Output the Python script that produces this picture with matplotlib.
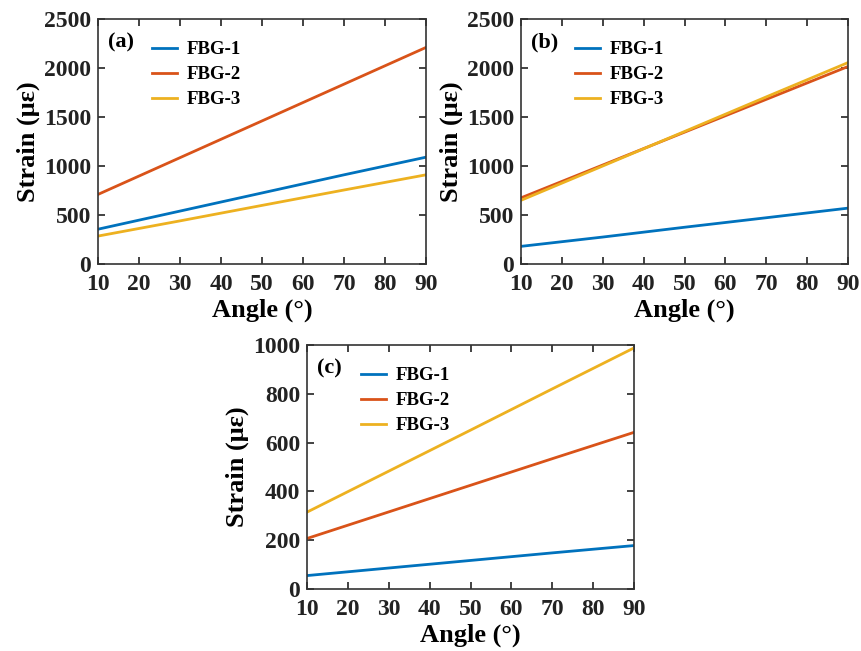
import matplotlib
matplotlib.use("Agg")
import matplotlib.pyplot as plt

plt.rcParams['font.family'] = ['Liberation Serif', 'DejaVu Serif']
plt.rcParams['font.weight'] = 'bold'
plt.rcParams['axes.labelweight'] = 'bold'

angles = [10, 30, 50, 70, 90]
labels = ['FBG-1', 'FBG-2', 'FBG-3']
colors = ['#0072BD', '#D95319', '#EDB120']

a_fbg1 = [355, 540, 725, 910, 1090]
a_fbg2 = [710, 1085, 1460, 1835, 2210]
a_fbg3 = [285, 440, 598, 755, 910]

b_fbg1 = [180, 275, 375, 472, 570]
b_fbg2 = [675, 1010, 1345, 1680, 2015]
b_fbg3 = [650, 1000, 1352, 1705, 2055]

c_fbg1 = [55, 86, 117, 148, 178]
c_fbg2 = [207, 316, 425, 534, 642]
c_fbg3 = [315, 483, 651, 820, 988]

panels = [
    ('(a)', [a_fbg1, a_fbg2, a_fbg3], [0, 500, 1000, 1500, 2000, 2500], (0, 2500)),
    ('(b)', [b_fbg1, b_fbg2, b_fbg3], [0, 500, 1000, 1500, 2000, 2500], (0, 2500)),
    ('(c)', [c_fbg1, c_fbg2, c_fbg3], [0, 200, 400, 600, 800, 1000], (0, 1000)),
]

W, H = 861, 651
fig = plt.figure(figsize=(W / 100, H / 100), dpi=100)
boxes = [(98, 19, 426, 264), (521, 19, 848, 264), (307, 345, 634, 589)]

for (tag, series, yt, ylim), (l, t, r, b) in zip(panels, boxes):
    ax = fig.add_axes([l / W, (H - b) / H, (r - l) / W, (b - t) / H])
    for s, lab, c in zip(series, labels, colors):
        ax.plot(angles, s, color=c, lw=2.0, label=lab)
    ax.set_xlim(10, 90)
    ax.set_ylim(*ylim)
    ax.set_xticks([10, 20, 30, 40, 50, 60, 70, 80, 90])
    ax.set_yticks(yt)
    ax.tick_params(direction='in', top=True, right=True, length=5, width=1.2,
                   labelsize=17, colors='#222222')
    ax.tick_params(axis='x', pad=7)
    ax.tick_params(axis='y', pad=5)
    for sp in ax.spines.values():
        sp.set_linewidth(1.2)
        sp.set_color('#333333')
    ax.set_xlabel('Angle (°)', fontsize=19, labelpad=3)
    ax.set_ylabel('Strain (με)', fontsize=19, labelpad=3)
    ax.text(0.03, 0.905, tag, transform=ax.transAxes, fontsize=16,
            fontweight='bold', va='center', ha='left')
    ax.legend(loc='upper left', bbox_to_anchor=(0.13, 0.955), frameon=False,
              fontsize=13.5, handlelength=1.35, handletextpad=0.5,
              labelspacing=0.42, borderaxespad=0.2)

fig.savefig('out.png', dpi=100)
